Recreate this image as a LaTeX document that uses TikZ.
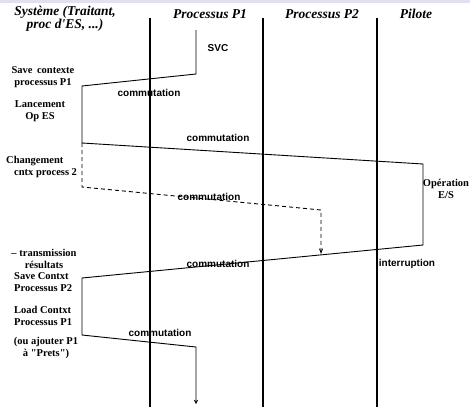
\documentclass[tikz,border=0pt]{standalone}
\usepackage{fontspec}
\setmainfont{Liberation Serif}[Ligatures=TeXOff]
\setsansfont{Liberation Sans}
\usetikzlibrary{arrows.meta}
\definecolor{bandcol}{RGB}{224,224,244}
\tikzset{
  lane/.style={line width=2.4pt},
  trace/.style={line width=0.9pt},
  dashtrace/.style={line width=0.9pt, dash pattern=on 4pt off 3pt},
  head/.style={font=\fontsize{13.5}{11}\selectfont\bfseries\itshape, align=center, inner sep=0pt},
  note/.style={font=\fontsize{10.5}{11.5}\selectfont\bfseries, align=center, inner sep=0pt},
  event/.style={font=\fontsize{10}{11}\selectfont\sffamily\bfseries, inner sep=0pt},
}
\begin{document}
\begin{tikzpicture}[x=1pt,y=-1pt]
\useasboundingbox (0,0) rectangle (470,407);
\fill[bandcol] (0,0) rectangle (470,3);

% column separators
\coordinate (l1t) at (150,18); \coordinate (l1b) at (150,407);
\coordinate (l2t) at (263,18); \coordinate (l2b) at (263,407);
\coordinate (l3t) at (377,18); \coordinate (l3b) at (377,407);
\draw[lane] (l1t) -- (l1b);
\draw[lane] (l2t) -- (l2b);
\draw[lane] (l3t) -- (l3b);

% column titles
\node[head] (hsys) at (65,19) {Système (Traitant,\\proc d'ES, ...)};
\node[head] (hp1) at (210,14) {Processus P1};
\node[head] (hp2) at (322,14) {Processus P2};
\node[head] (hpil) at (416,14) {Pilote};

% execution thread
\coordinate (s0) at (196,30);
\coordinate (s1) at (196,74);
\coordinate (s2) at (82,86);
\coordinate (s3) at (82,143);
\coordinate (s4) at (423,164);
\coordinate (s5) at (423,245);
\coordinate (s6) at (82,278);
\coordinate (s7) at (82,335);
\coordinate (s8) at (196,347);
\coordinate (s9) at (196,404);
\draw[trace, -{Straight Barb[length=3pt,width=3pt]}] (s0) -- (s1) -- (s2) -- (s3) -- (s4) -- (s5) -- (s6) -- (s7) -- (s8) -- (s9);

% alternative path: switch to process 2
\coordinate (d1) at (82,187);
\coordinate (d2) at (321,210);
\coordinate (d3) at (321,254);
\draw[dashtrace, -{Straight Barb[length=4pt,width=3pt]}] (s3) -- (d1) -- (d2) -- (d3);

% events
\node[event] (svc) at (218,48) {SVC};
\node[event] (c1) at (149,93) {commutation};
\node[event] (c2) at (218,138) {commutation};
\node[event] (c3) at (209,197) {commutation};
\node[event] (c4) at (218,264) {commutation};
\node[event] (irq) at (407,264) {interruption};
\node[event] (c5) at (160,333) {commutation};

% system-side actions
\node[note] (n1) at (43,77) {Save\, contexte\\processus P1};
\node[note] (n2) at (40,111) {Lancement\\Op ES};
\node[note, align=left, anchor=west] (n3) at (6,167) {Changement\\\hspace*{8pt}cntx process 2};
\node[note] (n4) at (446,189) {Opération\\E/S};
\node[note] (n5) at (44,259) {– transmission\\résultats};
\node[note, align=left, anchor=west] (n6) at (14,282) {Save Contxt\\Processus P2};
\node[note, align=left, anchor=west] (n7) at (14,316) {Load Contxt\\Processus P1};
\node[note] (n8) at (46,348) {(ou ajouter P1\\à "Prets")};
\end{tikzpicture}
\end{document}
